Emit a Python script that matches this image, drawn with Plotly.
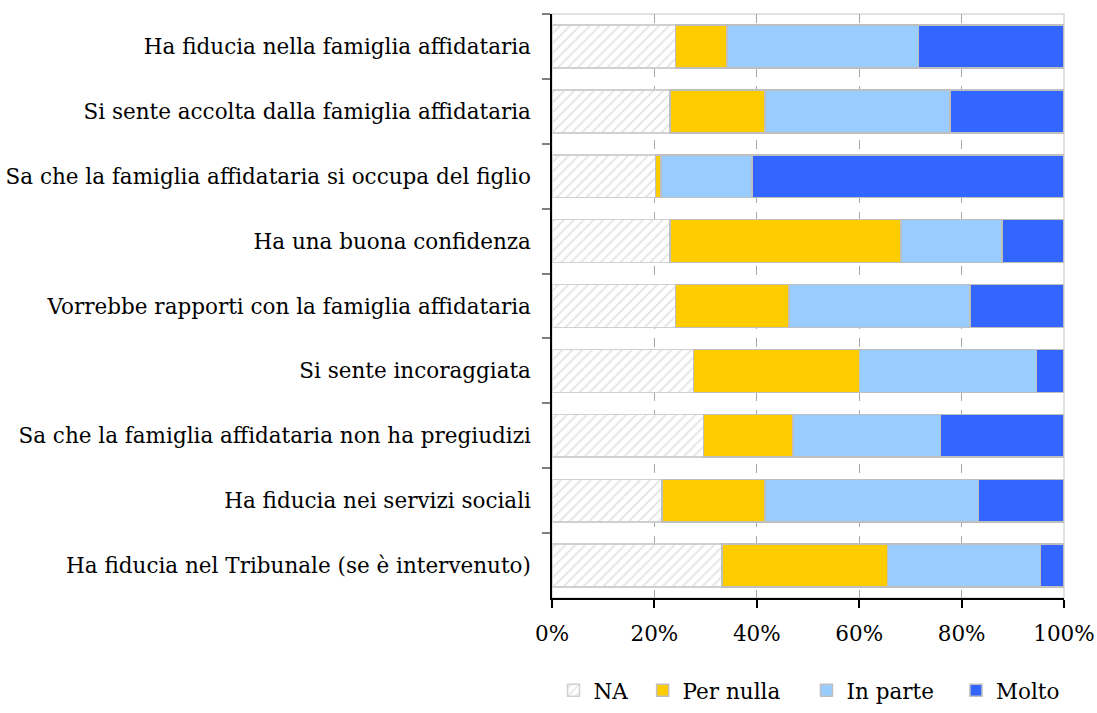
import plotly.graph_objects as go

categories = [
    "Ha fiducia nella famiglia affidataria",
    "Si sente accolta dalla famiglia affidataria",
    "Sa che la famiglia affidataria si occupa del figlio",
    "Ha una buona confidenza",
    "Vorrebbe rapporti con la famiglia affidataria",
    "Si sente incoraggiata",
    "Sa che la famiglia affidataria non ha pregiudizi",
    "Ha fiducia nei servizi sociali",
    "Ha fiducia nel Tribunale (se è intervenuto)",
]
na = [24.1, 23.0, 20.2, 23.0, 24.1, 27.6, 29.6, 21.5, 33.2]
per_nulla = [10.1, 18.6, 1.1, 45.2, 22.2, 32.5, 17.5, 20.1, 32.3]
in_parte = [37.4, 36.1, 17.8, 19.7, 35.3, 34.5, 28.8, 41.7, 29.9]
molto = [28.4, 22.3, 60.9, 12.1, 18.4, 5.4, 24.1, 16.7, 4.6]

x_ticks = [0, 20, 40, 60, 80, 100]
x_ticklabels = ["0%", "20%", "40%", "60%", "80%", "100%"]

FONT = "DejaVu Serif"
FS = 21.5
OUTLINE = "#bfbfbf"

fig = go.Figure()
fig.add_trace(go.Bar(
    y=categories, x=na, name="NA", orientation="h", legend="legend",
    marker=dict(color="white",
                pattern=dict(shape="/", fgcolor="#c8c8c8", bgcolor="white", size=7, solidity=0.25),
                line=dict(color="#d0d0d0", width=1.5)),
))
fig.add_trace(go.Bar(
    y=categories, x=per_nulla, name="Per nulla", orientation="h", legend="legend2",
    marker=dict(color="#FFCC00", line=dict(color=OUTLINE, width=1.5)),
))
fig.add_trace(go.Bar(
    y=categories, x=in_parte, name="In parte", orientation="h", legend="legend3",
    marker=dict(color="#99CCFF", line=dict(color=OUTLINE, width=1.5)),
))
fig.add_trace(go.Bar(
    y=categories, x=molto, name="Molto", orientation="h", legend="legend4",
    marker=dict(color="#3366FF", line=dict(color=OUTLINE, width=1.5)),
))

leg_common = dict(orientation="h", y=-0.158, yanchor="middle", xanchor="left",
                  font=dict(family=FONT, size=FS), itemwidth=30,
                  bgcolor="rgba(0,0,0,0)")

fig.update_layout(
    barmode="stack",
    bargap=0.34,
    showlegend=True,
    width=1097, height=713,
    margin=dict(l=552, r=33, t=14, b=115, pad=0, autoexpand=False),
    paper_bgcolor="white", plot_bgcolor="white",
    font=dict(family=FONT, size=FS, color="#000000"),
    xaxis=dict(
        range=[0, 100], tickvals=x_ticks, ticktext=x_ticklabels,
        showgrid=True, gridcolor="#a6a6a6", griddash="dash", gridwidth=1,
        showline=True, linecolor="#000000", linewidth=1.5,
        ticks="outside", ticklen=8, tickcolor="#000000", tickwidth=1.5,
        ticklabelstandoff=7, zeroline=False, automargin=False,
        tickfont=dict(family=FONT, size=FS),
    ),
    yaxis=dict(
        categoryorder="array", categoryarray=categories, autorange="reversed",
        showline=True, linecolor="#000000", linewidth=1.5,
        ticks="outside", ticklen=8, tickcolor="#808080", tickwidth=1.5,
        tickson="boundaries", showgrid=False, automargin=False,
        ticklabelstandoff=15,
        tickfont=dict(family=FONT, size=FS),
    ),
    legend=dict(x=0.003, **leg_common),
    legend2=dict(x=0.177, **leg_common),
    legend3=dict(x=0.497, **leg_common),
    legend4=dict(x=0.789, **leg_common),
    shapes=[dict(type="rect", xref="paper", yref="paper", x0=0, x1=1, y0=0, y1=1,
                 line=dict(color="#d9d9d9", width=1.5), layer="below")],
)

fig.write_html("out.html",
               config={"displayModeBar": False},
               post_script="document.body.style.margin='0';document.body.style.overflow='hidden';")
